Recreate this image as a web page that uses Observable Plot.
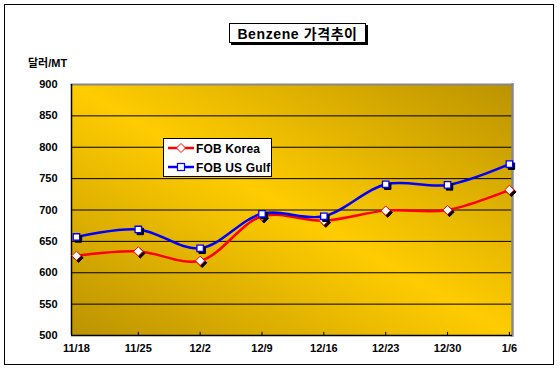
<!DOCTYPE html>
<html>
<head>
<meta charset="utf-8">
<script src="https://cdn.jsdelivr.net/npm/d3@7"></script>
<script src="https://cdn.jsdelivr.net/npm/@observablehq/plot@0.6"></script>
<style>
  html, body { margin: 0; padding: 0; background: #fff; }
  #chart { position: relative; width: 560px; height: 369px; }
  svg { font-family: "Liberation Sans", "Noto Sans CJK KR", sans-serif; }
</style>
</head>
<body>
<div id="chart"></div>
<script>
const categories = ["11/18", "11/25", "12/2", "12/9", "12/16", "12/23", "12/30", "1/6"];
const fobKorea = [627, 634, 619, 690, 683, 699, 700, 732];
const fobUSGulf = [657, 669, 639, 694, 690, 741, 740, 773];
const yTicks = [500, 550, 600, 650, 700, 750, 800, 850, 900];
const gridValues = [550, 600, 650, 700, 750, 800, 850];
const titleText = "Benzene 가격추이";
const unitText = "달러/MT";
const seriesNames = ["FOB Korea", "FOB US Gulf"];

const korea = categories.map((c, i) => ({i, v: fobKorea[i]}));
const gulf = categories.map((c, i) => ({i, v: fobUSGulf[i]}));
const idx = categories.map((c, i) => i);

const plot = Plot.plot({
  width: 560,
  height: 369,
  marginLeft: 71,
  marginRight: 48,
  marginTop: 84,
  marginBottom: 34,
  style: {fontFamily: '"Liberation Sans", "Noto Sans CJK KR", sans-serif', fontSize: "11px", fontWeight: "bold", background: "transparent", color: "#000"},
  x: {type: "linear", domain: [-0.08, 7.05], axis: null},
  y: {domain: [500, 900], axis: null},
  marks: [
    Plot.frame({fill: "url(#bgGrad)", stroke: "none"}),
    Plot.ruleY(gridValues, {stroke: "#000", strokeWidth: 1}),
    Plot.frame({anchor: "top", stroke: "#888", strokeWidth: 2}),
    Plot.frame({anchor: "right", stroke: "#888", strokeWidth: 2.5}),
    Plot.ruleY([500], {stroke: "#000", strokeWidth: 1.5}),
    Plot.ruleX([-0.08], {stroke: "#000", strokeWidth: 1.5}),
    Plot.ruleX(idx.slice(1), {y1: 500, y2: 505, stroke: "#000", strokeWidth: 1}),
    Plot.axisY({ticks: yTicks, tickSize: 0, tickPadding: 14, fontSize: 11, fontWeight: "bold", label: null}),
    Plot.axisX({ticks: idx, tickFormat: i => categories[i], tickSize: 0, tickPadding: 9, fontSize: 11, fontWeight: "bold", label: null}),
    Plot.line(korea, {x: "i", y: "v", curve: "catmull-rom", stroke: "#ff0000", strokeWidth: 2.5}),
    Plot.line(gulf, {x: "i", y: "v", curve: "catmull-rom", stroke: "#0000ff", strokeWidth: 2.5}),
    Plot.dot(korea, {x: "i", y: "v", symbol: "diamond2", r: 4.2, fill: "#000", stroke: "#000", strokeWidth: 1, dx: 2, dy: 2}),
    Plot.dot(korea, {x: "i", y: "v", symbol: "diamond2", r: 4.2, fill: "#fff", stroke: "#ff0000", strokeWidth: 1}),
    Plot.dot(gulf, {x: "i", y: "v", symbol: "square2", r: 4.1, fill: "#000", stroke: "#000", strokeWidth: 1, dx: 2, dy: 2}),
    Plot.dot(gulf, {x: "i", y: "v", symbol: "square2", r: 4.1, fill: "#fff", stroke: "#0000ff", strokeWidth: 1.3})
  ]
});

document.getElementById("chart").appendChild(plot);
const svg = d3.select(plot);

// gradient definition
const defs = svg.insert("defs", ":first-child");
const g = defs.append("linearGradient").attr("id", "bgGrad")
  .attr("x1", "1").attr("y1", "0").attr("x2", "0").attr("y2", "1");
g.append("stop").attr("offset", "0%").attr("stop-color", "#bb9300");
g.append("stop").attr("offset", "50%").attr("stop-color", "#ffcc00");
g.append("stop").attr("offset", "100%").attr("stop-color", "#bb9300");

// outer border
svg.append("rect").attr("x", 4.5).attr("y", 4.5).attr("width", 549).attr("height", 360)
  .attr("fill", "none").attr("stroke", "#000").attr("stroke-width", 1);

// title box with shadow
svg.append("rect").attr("x", 231).attr("y", 25).attr("width", 137).attr("height", 20).attr("fill", "#000");
svg.append("rect").attr("x", 229.5).attr("y", 23.5).attr("width", 136).attr("height", 19)
  .attr("fill", "#fff").attr("stroke", "#000").attr("stroke-width", 1);
svg.append("text").attr("x", 297.5).attr("y", 38.5).attr("text-anchor", "middle")
  .attr("font-size", 14).attr("font-weight", "bold").attr("letter-spacing", 0.6).text(titleText);

// unit label
svg.append("text").attr("x", 28).attr("y", 67).attr("text-anchor", "start")
  .attr("font-size", 11).attr("font-weight", "bold").text(unitText);

// legend
const lg = svg.append("g");
lg.append("rect").attr("x", 163.5).attr("y", 138.5).attr("width", 108).attr("height", 38)
  .attr("fill", "#fff").attr("stroke", "#000").attr("stroke-width", 1);
const items = [
  {name: seriesNames[0], color: "#ff0000", sym: "diamond", y: 148},
  {name: seriesNames[1], color: "#0000ff", sym: "square", y: 167}
];
items.forEach(d => {
  lg.append("line").attr("x1", 168).attr("x2", 194).attr("y1", d.y).attr("y2", d.y)
    .attr("stroke", d.color).attr("stroke-width", 2.5);
  if (d.sym === "diamond") {
    lg.append("path").attr("d", `M181,${d.y - 4.5}L185.5,${d.y}L181,${d.y + 4.5}L176.5,${d.y}Z`)
      .attr("fill", "#fff").attr("stroke", d.color).attr("stroke-width", 1);
  } else {
    lg.append("rect").attr("x", 177.5).attr("y", d.y - 3.5).attr("width", 7).attr("height", 7)
      .attr("fill", "#fff").attr("stroke", d.color).attr("stroke-width", 1.2);
  }
  lg.append("text").attr("x", 196).attr("y", d.y + 4.5).attr("text-anchor", "start")
    .attr("font-size", 12).attr("font-weight", "bold").attr("letter-spacing", 0.15).text(d.name);
});
</script>
</body>
</html>
